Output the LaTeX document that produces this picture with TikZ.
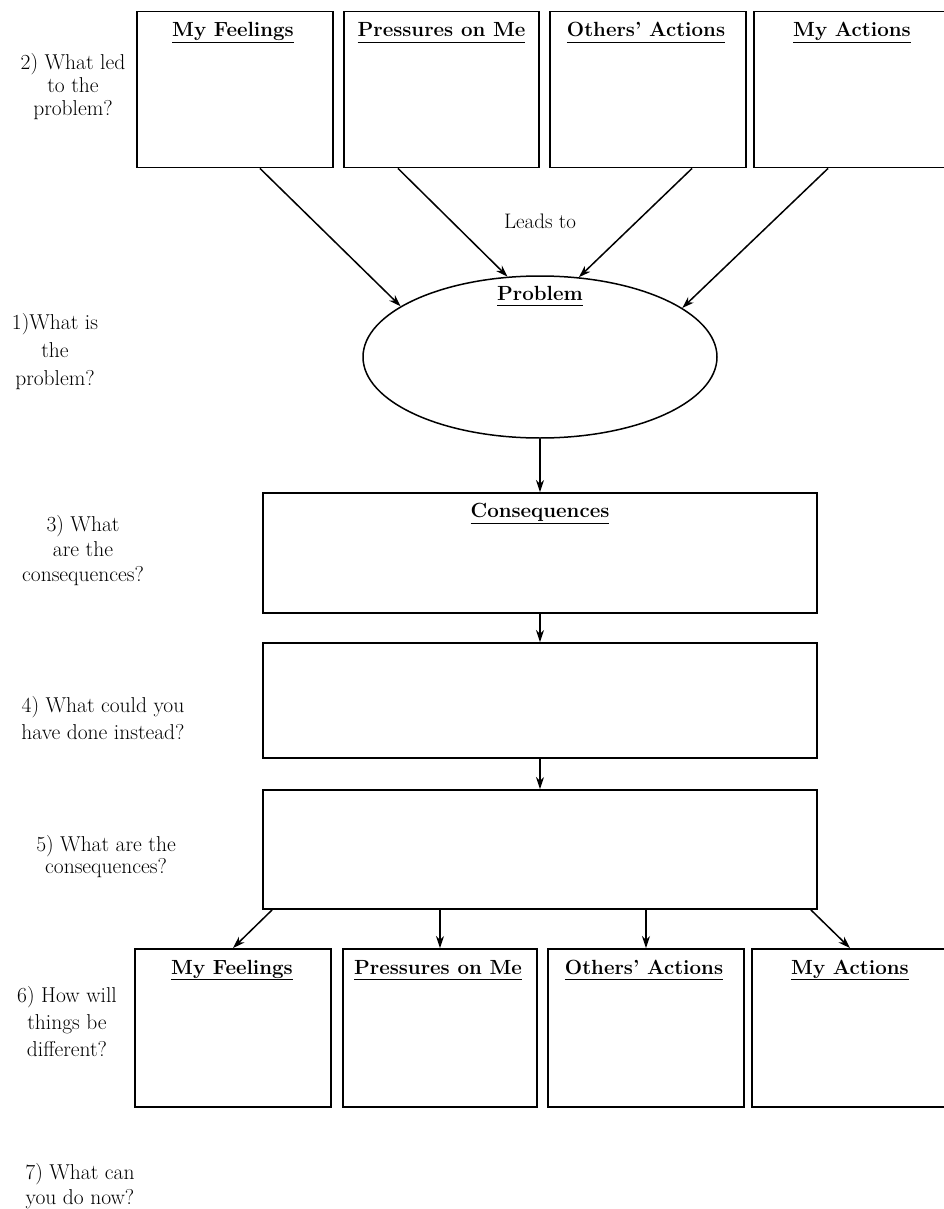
\documentclass[tikz,border=0pt]{standalone}
\usetikzlibrary{arrows.meta,shapes.geometric,calc}
\newcommand{\ulx}[1]{\underline{#1\vphantom{gy}}}
\begin{document}
\begin{tikzpicture}[x=1pt,y=1pt,
  box/.style={draw, line width=1.9pt, inner sep=0pt},
  sbox/.style={box, minimum width=196pt, minimum height=156pt},
  wbox/.style={box, minimum width=554pt},
  ttl/.style={anchor=base, inner sep=0pt, font=\fontsize{20.5}{24}\selectfont\bfseries},
  lab/.style={align=center, inner sep=0pt, font=\fontsize{21.5}{25}\selectfont},
  arr/.style={line width=1.5pt, -{Stealth[length=12pt,width=8pt]}}
]
\useasboundingbox (0,0) rectangle (944,-1209);
\clip (0,0) rectangle (944,-1209);

% top row
\node[sbox] (tf) at (235,-89.5) {};
\node[sbox, minimum width=195pt] (tp) at (441.5,-89.5) {};
\node[sbox] (to) at (648,-89.5) {};
\node[sbox] (ta) at (852,-89.5) {};
\node[ttl] (tft) at (233,-36.5) {\ulx{My Feelings}};
\node[ttl] (tpt) at (441.5,-36.5) {\ulx{Pressures on Me}};
\node[ttl] (tot) at (646,-36.5) {\ulx{Others' Actions}};
\node[ttl] (tat) at (852,-36.5) {\ulx{My Actions}};

% problem
\node[ellipse, draw, line width=1.5pt, minimum width=354pt, minimum height=162pt, inner sep=0pt] (prob) at (540,-357) {};
\node[ttl] (probt) at (540,-300) {\ulx{Problem}};
\node[lab, font=\fontsize{21}{24}\selectfont] (lead) at (540,-221) {Leads to};

\draw[arr] ($(tf.south)+(25,0)$) -- (prob.160);
\draw[arr] ($(tp.south)+(-43.5,0)$) -- (prob.112);
\draw[arr] ($(to.south)+(44,0)$) -- (prob.64);
\draw[arr] ($(ta.south)+(-24,0)$) -- (prob.19);

% central column
\node[wbox, minimum height=120pt] (cons) at (540,-553) {};
\node[ttl] (const) at (540,-517.5) {\ulx{Consequences}};
\node[wbox, minimum height=115pt] (alt) at (540,-700.5) {};
\node[wbox, minimum height=119pt] (res) at (540,-849.5) {};

\draw[arr] (prob.south) -- (cons.north);
\draw[arr] (cons.south) -- (alt.north);
\draw[arr] (alt.south) -- (res.north);

% bottom row
\node[sbox, minimum height=158pt] (bf) at (233,-1028) {};
\node[sbox, minimum width=194pt, minimum height=158pt] (bp) at (440,-1028) {};
\node[sbox, minimum height=158pt] (bo) at (646,-1028) {};
\node[sbox, minimum height=158pt] (ba) at (850,-1028) {};
\node[ttl] (bft) at (232,-974) {\ulx{My Feelings}};
\node[ttl] (bpt) at (438,-974) {\ulx{Pressures on Me}};
\node[ttl] (bot) at (644,-974) {\ulx{Others' Actions}};
\node[ttl] (bat) at (850,-974) {\ulx{My Actions}};

\draw[arr] ($(res.south west)+(10,0)$) -- (bf.north);
\draw[arr] (res.south -| bp.north) -- (bp.north);
\draw[arr] (res.south -| bo.north) -- (bo.north);
\draw[arr] ($(res.south east)+(-7,0)$) -- (ba.north);

% left questions
\node[lab, font=\fontsize{21.5}{23}\selectfont] (q2) at (73,-87) {2) What led\\to the\\problem?};
\node[lab, font=\fontsize{21.5}{28}\selectfont] (q1) at (55,-352) {1)What is\\the\\problem?};
\node[lab] (q3) at (83,-551) {3) What\\are the\\consequences?};
\node[lab, font=\fontsize{21.5}{27}\selectfont] (q4) at (103,-718) {4) What could you\\have done instead?};
\node[lab, font=\fontsize{21.5}{22}\selectfont] (q5) at (106,-857) {5) What are the\\consequences?};
\node[lab, font=\fontsize{21.5}{27}\selectfont] (q6) at (67,-1022) {6) How will\\things be\\different?};
\node[lab] (q7) at (80,-1186) {7) What can\\you do now?};
\end{tikzpicture}
\end{document}
